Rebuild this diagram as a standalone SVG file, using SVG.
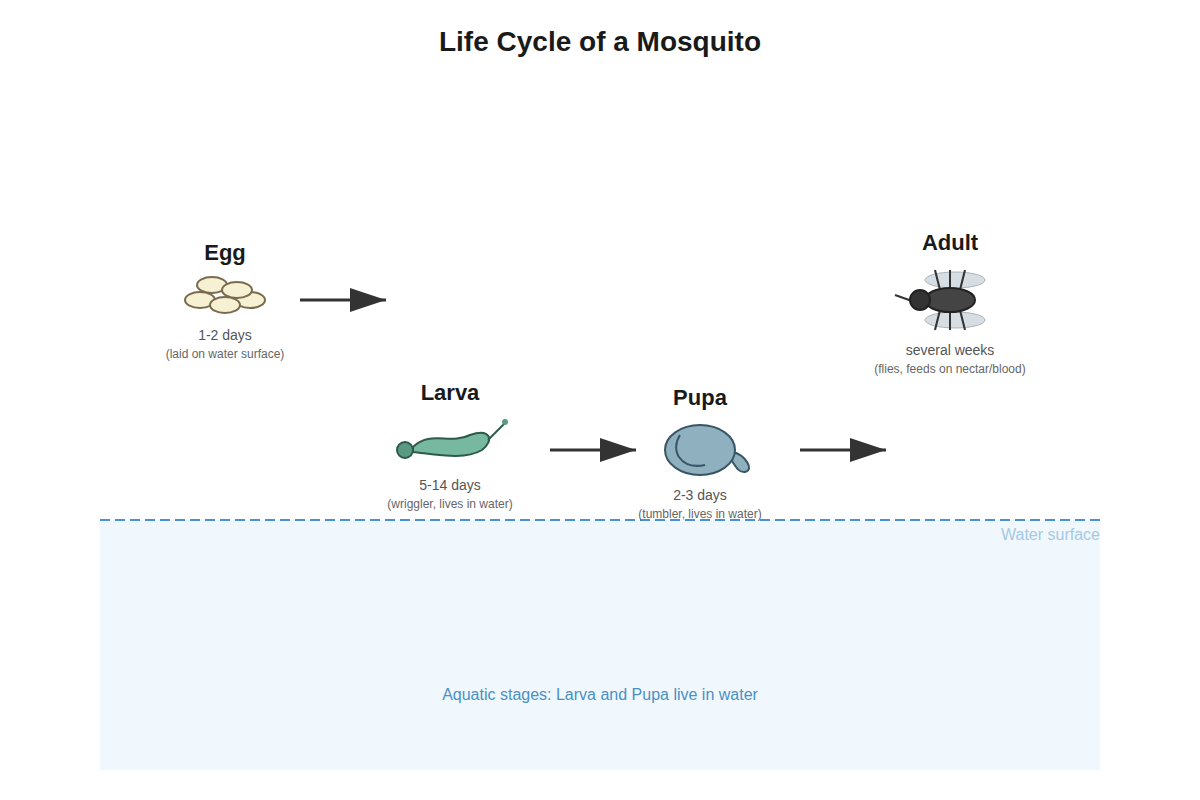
<svg xmlns="http://www.w3.org/2000/svg" width="1200" height="800" viewBox="0 0 1200 800">
<style>
text{font-family:"Liberation Sans",Arial,sans-serif;text-anchor:middle}
.t{font-size:22px;font-weight:bold;fill:#1a1a1a}
.d{font-size:14px;fill:#555}
.s{font-size:12px;fill:#666}
.c{stroke:#333;stroke-width:3;fill:none}
</style>
<defs><marker id="ah" markerWidth="12" markerHeight="10" refX="11" refY="5" orient="auto" markerUnits="userSpaceOnUse"><path d="M0,0 L12,5 L0,10Z" fill="#333"/></marker>
<marker id="a" viewBox="0 0 36 24" markerWidth="36" markerHeight="24" refX="36" refY="12" orient="auto" markerUnits="userSpaceOnUse"><path d="M0,0 L36,12 L0,24Z" fill="#333"/></marker></defs>
<rect width="1200" height="800" fill="#fff"/>
<text x="600" y="51" style="font-size:28px;font-weight:bold;fill:#1a1a1a">Life Cycle of a Mosquito</text>
<rect x="100" y="520" width="1000" height="250" fill="#f0f8fe"/>
<line x1="100" y1="520" x2="1100" y2="520" stroke="#4a90d9" stroke-width="2" stroke-dasharray="10,5"/>
<text x="1100" y="540" style="font-size:16px;fill:#a6c8e4;text-anchor:end">Water surface</text>
<text x="600" y="700" style="font-size:16px;fill:#4a90c4">Aquatic stages: Larva and Pupa live in water</text>
<g id="connectors">
<line class="c" x1="300" y1="300" x2="386" y2="300" marker-end="url(#a)"/>
<line class="c" x1="550" y1="450" x2="636" y2="450" marker-end="url(#a)"/>
<line class="c" x1="800" y1="450" x2="886" y2="450" marker-end="url(#a)"/>
</g>
<g id="egg">
<text class="t" x="225" y="260">Egg</text>
<g fill="#f6f1d2" stroke="#7a6a4f" stroke-width="2">
<ellipse cx="212" cy="285" rx="15" ry="8"/><ellipse cx="200" cy="300" rx="15" ry="8"/><ellipse cx="250" cy="300" rx="15" ry="8"/><ellipse cx="225" cy="305" rx="15" ry="8"/><ellipse cx="237" cy="290" rx="15" ry="8"/>
</g>
<text class="d" x="225" y="340">1-2 days</text>
<text class="s" x="225" y="358">(laid on water surface)</text>
</g>
<g id="larva">
<text class="t" x="450" y="400">Larva</text>
<path d="M413,447 C430,430 450,445 470,435 C490,428 495,440 482,450 C465,460 440,455 413,452Z" fill="#76b8a0" stroke="#2d5a4a" stroke-width="2"/>
<line x1="488" y1="440" x2="505" y2="423" stroke="#2d5a4a" stroke-width="2"/>
<circle cx="505" cy="422" r="3" fill="#5a9a82"/>
<circle cx="405" cy="450" r="8" fill="#5a9a82" stroke="#2d5a4a" stroke-width="2"/>
<text class="d" x="450" y="490">5-14 days</text>
<text class="s" x="450" y="508">(wriggler, lives in water)</text>
</g>
<g id="pupa">
<text class="t" x="700" y="405">Pupa</text>
<path d="M733,452 C745,455 755,470 745,472 C738,473 735,465 730,458Z" fill="#8fb0bf" stroke="#3a5566" stroke-width="2"/>
<ellipse cx="700" cy="450" rx="35" ry="25" fill="#8fb0bf" stroke="#3a5566" stroke-width="2"/>
<path d="M680,435 C670,450 680,470 705,465" fill="none" stroke="#3a5566" stroke-width="2"/>
<text class="d" x="700" y="500">2-3 days</text>
<text class="s" x="700" y="518">(tumbler, lives in water)</text>
</g>
<g id="adult">
<text class="t" x="950" y="250">Adult</text>
<ellipse cx="955" cy="280" rx="30" ry="8" fill="#d6dde3" stroke="#aab4bc"/>
<ellipse cx="955" cy="320" rx="30" ry="8" fill="#d6dde3" stroke="#aab4bc"/>
<g stroke="#333" stroke-width="2"><line x1="935" y1="270" x2="940" y2="290"/><line x1="950" y1="270" x2="950" y2="290"/><line x1="965" y1="270" x2="960" y2="290"/><line x1="935" y1="330" x2="940" y2="310"/><line x1="950" y1="330" x2="950" y2="310"/><line x1="965" y1="330" x2="960" y2="310"/><line x1="895" y1="295" x2="912" y2="301"/></g>
<ellipse cx="950" cy="300" rx="25" ry="12" fill="#444" stroke="#222" stroke-width="2"/>
<circle cx="920" cy="300" r="10" fill="#333" stroke="#222" stroke-width="2"/>
<text class="d" x="950" y="355">several weeks</text>
<text class="s" x="950" y="373">(flies, feeds on nectar/blood)</text>
</g>
</svg>
